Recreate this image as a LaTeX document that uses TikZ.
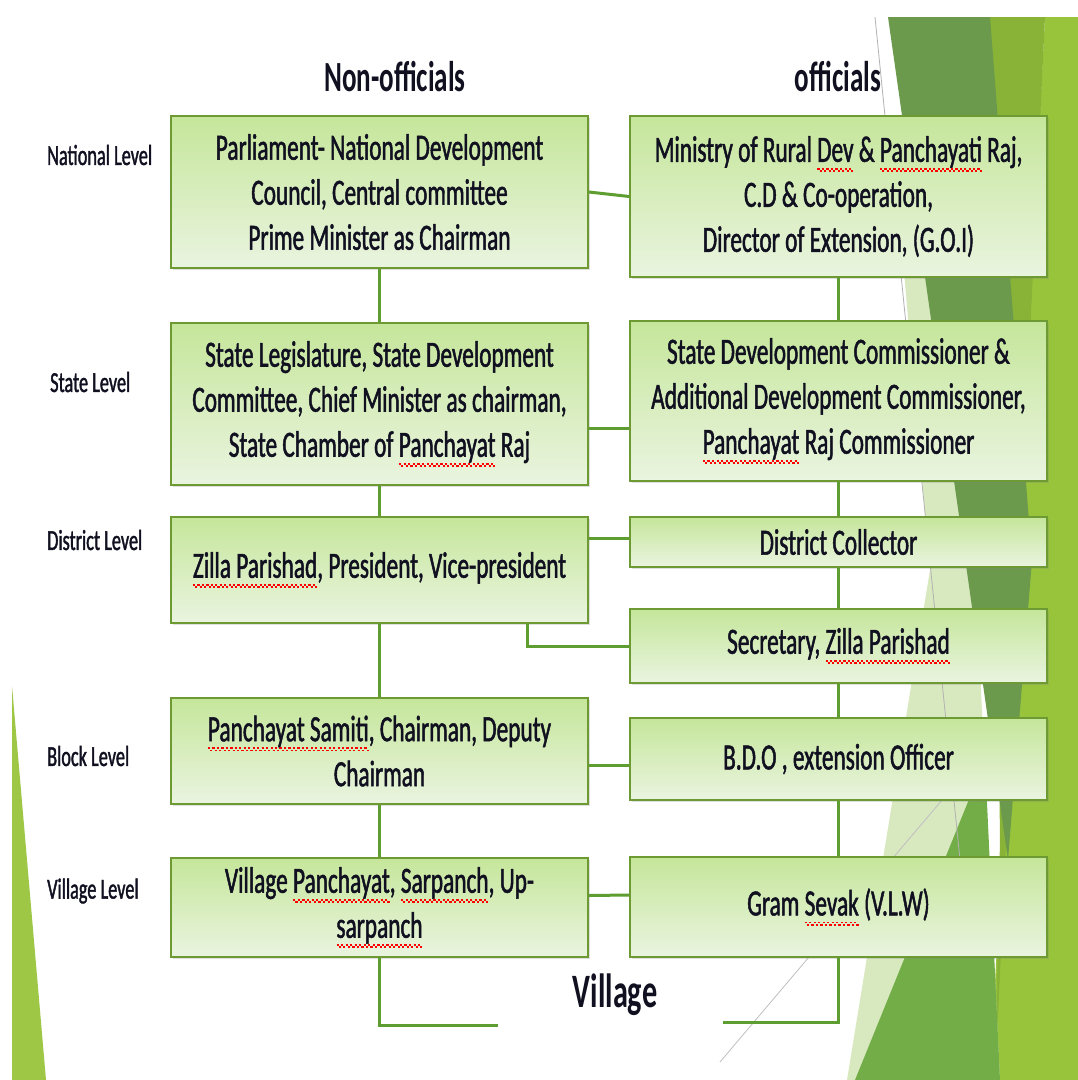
\documentclass[tikz,border=0pt]{standalone}
\usepackage{fontspec}
\setmainfont[FakeStretch=0.63]{Carlito}
\newfontfamily\boxfam[FakeStretch=0.63,FakeBold=1.3]{Carlito}
\usetikzlibrary{shadows}
\definecolor{boxtop}{HTML}{C5E69A}
\definecolor{boxbot}{HTML}{EAF4E0}
\definecolor{boxline}{HTML}{6E9A34}
\definecolor{lncol}{HTML}{5E9E30}
\definecolor{txtcol}{HTML}{101020}
\definecolor{sqred}{HTML}{FF0000}
\definecolor{bgbright}{HTML}{98C43C}
\definecolor{bgolive}{HTML}{88B336}
\definecolor{bgdark}{HTML}{6B9A4C}
\definecolor{bglight}{HTML}{D8E8BF}
\definecolor{bgmid}{HTML}{72AD48}
\definecolor{bgleft}{HTML}{9DC744}
\newsavebox\sqbox
\newcommand\sqw[1]{\sbox\sqbox{#1}\rlap{\textcolor{sqred}{\hbox to \wd\sqbox{\xleaders\hbox{\raisebox{-8pt}{\rule{2.2pt}{1.8pt}}\raisebox{-10.2pt}{\rule{2.2pt}{1.8pt}}}\hfill}}}\usebox\sqbox}
\newcommand\boxfont{\boxfam\fontsize{37}{45}\selectfont}
\newcommand\lvlfont{\boxfam\fontsize{29}{30}\selectfont}
\begin{document}
\begin{tikzpicture}[x=1pt,y=-1pt,
  cbox/.style={draw=boxline, line width=1.6pt, top color=boxtop, bottom color=boxbot,
    minimum width=417pt, minimum height=#1, align=center, inner sep=0pt,
    font=\boxfont, text=txtcol,
    drop shadow={shadow xshift=1.5pt, shadow yshift=-1.5pt, opacity=0.25}},
  conn/.style={draw=lncol, line width=3pt},
  lvl/.style={anchor=west, inner sep=0pt, font=\lvlfont, text=txtcol},
  head/.style={inner sep=0pt, font=\fontsize{43}{45}\selectfont\bfseries, text=txtcol}]
\path[use as bounding box, fill=white] (0,0) rectangle (1078,1080);
% background facets
\fill[bgbright] (1045,17) -- (1078,17) -- (1078,1080) -- (990,1080) -- cycle;
\fill[bgolive] (990,17) -- (1045,17) -- (995,1080) -- (1000,840) -- cycle;
\fill[bglight] (903,260) -- (960,260) -- (1000,1080) -- (847,1080) -- (930,570) -- cycle;
\fill[bgdark] (888,17) -- (990,17) -- (1032,560) -- (1008,860) -- cycle;
\fill[bgmid] (985,760) -- (1000,1080) -- (855,1080) -- cycle;
\draw[gray!60, line width=0.8pt] (875,17) -- (960,860);
\draw[gray!50, line width=0.8pt] (720,1062) -- (948,793);
\fill[bgleft] (12,686) -- (46,1080) -- (12,1080) -- cycle;
% headings
\node[head] (hn) at (395,77) {Non-officials};
\node[head] (ho) at (838,77) {officials};
\node[head, font=\fontsize{48}{50}\selectfont\bfseries] (vil) at (615,995) {Village};
% level labels
\node[lvl] (n1) at (47,155) {National Level};
\node[lvl] (n2) at (50,382) {State Level};
\node[lvl] (n3) at (47,540) {District Level};
\node[lvl] (n4) at (47,756) {Block Level};
\node[lvl] (n5) at (47,891) {Village Level};
% left boxes
\node[cbox=152pt] (L1) at (379.5,192) {Parliament- National Development\\Council, Central committee\\Prime Minister as Chairman};
\node[cbox=162pt] (L2) at (379.5,404) {State Legislature, State Development\\Committee, Chief Minister as chairman,\\State Chamber of \sqw{Panchayat} Raj};
\node[cbox=106pt] (L3) at (379.5,570) {\sqw{Zilla Parishad}, President, Vice-president};
\node[cbox=106pt] (L4) at (379.5,751) {\sqw{Panchayat Samiti}, Chairman, Deputy\\Chairman};
\node[cbox=99pt] (L5) at (379.5,907.5) {Village \sqw{Panchayat}, \sqw{Sarpanch}, Up-\\\sqw{sarpanch}};
% right boxes
\node[cbox=161pt] (R1) at (838.5,196.5) {Ministry of Rural \sqw{Dev} \& \sqw{Panchayati} Raj,\\C.D \& Co-operation,\\Director of Extension, (G.O.I)};
\node[cbox=160pt] (R2) at (838.5,401) {State Development Commissioner \&\\Additional Development Commissioner,\\\sqw{Panchayat} Raj Commissioner};
\node[cbox=50pt] (R3) at (838.5,542) {District Collector};
\node[cbox=74pt] (R4) at (838.5,646) {Secretary, \sqw{Zilla Parishad}};
\node[cbox=82pt] (R5) at (838.5,759) {B.D.O , extension Officer};
\node[cbox=100pt] (R6) at (838.5,907) {Gram \sqw{Sevak} (V.L.W)};
% vertical connectors
\draw[conn] (L1.south) -- (L2.north);
\draw[conn] (L2.south) -- (L3.north);
\draw[conn] (L3.south) -- (L4.north);
\draw[conn] (L4.south) -- (L5.north);
\draw[conn] (R1.south) -- (R2.north);
\draw[conn] (R2.south) -- (R3.north);
\draw[conn] (R3.south) -- (R4.north);
\draw[conn] (R4.south) -- (R5.north);
\draw[conn] (R5.south) -- (R6.north);
% horizontal connectors
\draw[conn] (L1.east) -- (R1.west);
\draw[conn] ([yshift=-24pt]L2.east) -- ([yshift=-27pt]R2.west);
\draw[conn] ([yshift=32pt]L3.east) -- ([yshift=4pt]R3.west);
\draw[conn] (R4.west) -| ([xshift=148pt]L3.south);
\draw[conn] ([yshift=-14pt]L4.east) -- ([yshift=-6pt]R5.west);
\draw[conn] ([yshift=12pt]L5.east) -- ([yshift=12pt]R6.west);
% bottom connectors
\coordinate (vl) at (498,1025);
\coordinate (vr) at (723,1022);
\draw[conn] (L5.south) |- (vl);
\draw[conn] (R6.south) |- (vr);
\end{tikzpicture}
\end{document}
